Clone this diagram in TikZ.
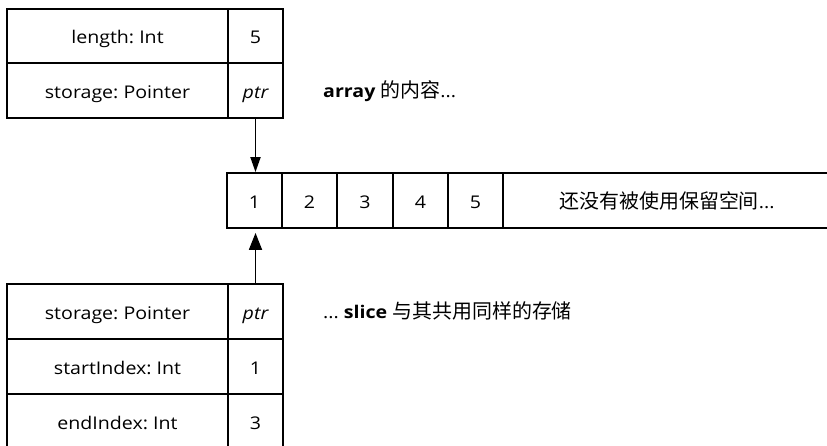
\documentclass[tikz,border=0pt]{standalone}
\usepackage{fontspec}
\setmainfont[FakeStretch=1.12]{Open Sans}
\newfontfamily\cjk[Scale=1.14]{Noto Sans CJK SC}
\usetikzlibrary{arrows.meta}
\newcommand\dgfont{\fontsize{17.5}{20}\selectfont\frenchspacing}
\begin{document}
\begin{tikzpicture}[x=1pt,y=-1pt,
  cell/.style={draw, line width=1.8pt, inner sep=0pt, minimum height=55pt, text height=17pt, text depth=2pt, font=\dgfont},
  wide/.style={cell, minimum width=221pt},
  narrow/.style={cell, minimum width=55pt},
  label/.style={anchor=base west, inner sep=0pt, font=\dgfont},
  conn/.style={line width=1.8pt}]
\useasboundingbox (0,0) rectangle (827,445);
% top structure (array)
\node[wide, minimum height=54pt] (tlen) at (117.5,36) {length: Int};
\node[narrow, minimum height=54pt] (tlenv) at (255.5,36) {5};
\node[wide] (tsto) at (117.5,90.5) {storage: Pointer};
\node[narrow] (tptr) at (255.5,90.5) {\itshape ptr};
\node[label] (tnote) at (323,97.5) {\bfseries array\mdseries{} {\cjk 的内容}...};
% storage
\node[narrow] (a1) at (254.5,200.5) {1};
\node[narrow] (a2) at (309.5,200.5) {2};
\node[narrow] (a3) at (365,200.5) {3};
\node[narrow] (a4) at (420.5,200.5) {4};
\node[narrow] (a5) at (475.5,200.5) {5};
\node[cell, minimum width=328pt] (arest) at (667,200.5) {{\cjk 还没有被使用保留空间}...};
% bottom structure (slice)
\node[wide] (bsto) at (117.5,311.5) {storage: Pointer};
\node[narrow] (bptr) at (255.5,311.5) {\itshape ptr};
\node[wide] (bst) at (117.5,366.5) {startIndex: Int};
\node[narrow] (bstv) at (255.5,366.5) {1};
\node[wide] (ben) at (117.5,421.5) {endIndex: Int};
\node[narrow] (benv) at (255.5,421.5) {3};
\node[label] (bnote) at (323,318) {... \bfseries slice\mdseries{} {\cjk 与其共用同样的存储}};
% connectors
\draw[conn, -{Triangle[length=15pt,width=10pt]}] (tptr.south) -- (tptr.south |- a1.north);
\draw[conn, -{Triangle[length=17pt,width=13pt]}, shorten >=4pt] (bptr.north) -- (bptr.north |- a1.south);
\end{tikzpicture}
\end{document}
